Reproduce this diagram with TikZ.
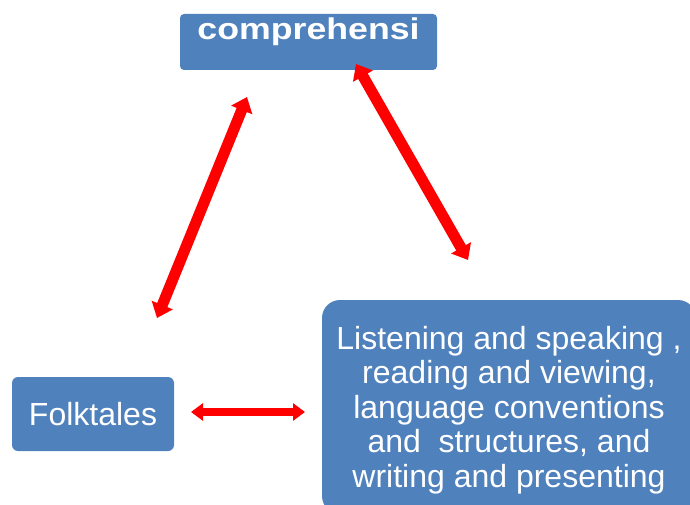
\documentclass[tikz,border=0pt]{standalone}
\usepackage{fontspec}
\setmainfont{Liberation Sans}
\usepackage{graphicx}
\usetikzlibrary{arrows.meta}
\definecolor{boxblue}{HTML}{4F81BD}
\definecolor{arrred}{HTML}{FF0000}
\tikzset{
  bluebox/.style={fill=boxblue, draw=none, text=white, inner sep=0pt},
  bigarrow/.style={draw=arrred, line width=11pt,
    {Triangle[length=14pt,width=22pt]}-{Triangle[length=14pt,width=22pt]}},
  smallarrow/.style={draw=arrred, line width=7.5pt,
    {Triangle[length=12pt,width=17pt]}-{Triangle[length=12pt,width=17pt]}}
}
\begin{document}
\begin{tikzpicture}[x=1pt,y=-1pt]
\useasboundingbox (0,0) rectangle (690,505);
\clip (0,0) rectangle (690,505);
% top box
\node[bluebox, rounded corners=4pt, minimum width=257pt, inner ysep=3pt,
      text height=23pt, text depth=27pt,
      font=\fontsize{30}{32}\selectfont\bfseries] (comp) at (308.5,42)
  {\scalebox{1.19}[1]{comprehensi}};
% folktales box
\node[bluebox, rounded corners=6pt, minimum width=162pt, minimum height=74pt,
      font=\fontsize{32}{34}\selectfont] (folk) at (93,414) {Folktales};
% big box
\node[bluebox, rounded corners=18pt, minimum width=374pt, minimum height=214pt,
      align=center, font=\fontsize{32}{34.5}\selectfont] (skills) at (509,407)
  {};
\node[text=white, align=center, inner sep=0pt, font=\fontsize{32}{34.5}\selectfont]
  (skillstext) at (509,410)
  {Listening and speaking ,\\ reading and viewing,\\language conventions\\and\ \ structures, and\\writing and presenting};
% arrow ends
\coordinate (l1) at (157,318);
\coordinate (l2) at (247,97);
\coordinate (r1) at (356,64);
\coordinate (r2) at (468,260);
\coordinate (h1) at (191,412);
\coordinate (h2) at (305,412);
\draw[bigarrow] (l1) -- (l2);
\draw[bigarrow] (r1) -- (r2);
\draw[smallarrow] (h1) -- (h2);
\end{tikzpicture}
\end{document}
